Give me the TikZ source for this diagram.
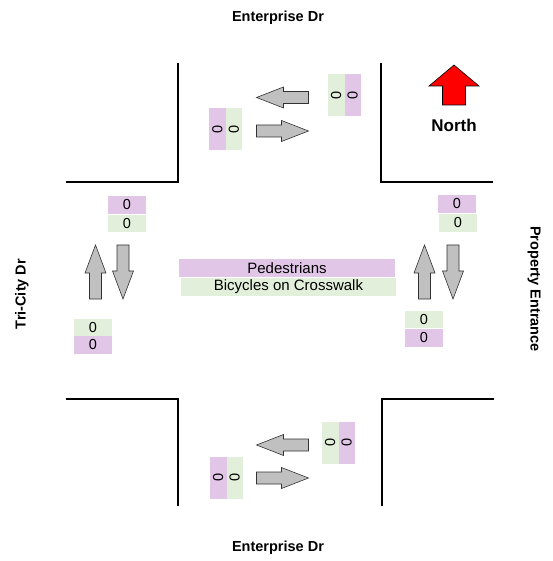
\documentclass[tikz,border=0pt]{standalone}
\usepackage{fontspec}
\setmainfont{Liberation Sans}
\definecolor{pedpurple}{RGB}{225,198,232}
\definecolor{bikegreen}{RGB}{226,239,218}
\definecolor{arrowgray}{RGB}{192,192,192}
\definecolor{arrowedge}{RGB}{50,50,50}
\begin{document}
\begin{tikzpicture}[x=1pt,y=-1pt,
  road/.style={line width=2pt,black},
  street/.style={font=\fontsize{14.5}{16}\selectfont\bfseries,inner sep=0pt},
  cnt/.style={inner sep=0pt,font=\fontsize{14.5}{15}\selectfont},
  ped/.style={cnt,fill=pedpurple},
  bike/.style={cnt,fill=bikegreen},
  hbox/.style={minimum width=38pt,minimum height=17.5pt},
  vbox/.style={rotate=90,minimum width=42pt,minimum height=16.5pt},
  legend/.style={font=\fontsize{15}{16}\selectfont,minimum height=18pt},
  arrowstyle/.style={fill=arrowgray,draw=arrowedge,line width=0.6pt,line join=miter},
  garrow/.pic={\draw[arrowstyle] (-26,-6) -- (-1,-6) -- (-1,-10.5) -- (26,0) -- (-1,10.5) -- (-1,6) -- (-26,6) -- cycle;}
]
\useasboundingbox (0,0) rectangle (552,561);

% street names
\node[street] (entN) at (278,18) {Enterprise Dr};
\node[street] (entS) at (278,548) {Enterprise Dr};
\node[street,rotate=90] (tri) at (22,294) {Tri-City Dr};
\node[street,rotate=-90] (prop) at (534,289) {Property Entrance};

% road corners
\draw[road] (178,63) -- (178,182) -- (66,182);
\draw[road] (381,63) -- (381,182) -- (493,182);
\draw[road] (66,399) -- (178,399) -- (178,506);
\draw[road] (494,399) -- (382,399) -- (382,506);

% north arrow
\draw[fill=red,draw=black,line width=0.6pt,line join=miter]
  (454,65) -- (479,86) -- (465.5,86) -- (465.5,105) -- (442.5,105) -- (442.5,86) -- (429,86) -- cycle;
\node[font=\fontsize{17}{19}\selectfont\bfseries,inner sep=0pt] (north) at (454,125) {North};

% movement arrows
\pic[rotate=180] at (282.5,97.5) {garrow};
\pic at (282.5,131) {garrow};
\pic[rotate=180] at (282.5,445) {garrow};
\pic at (282.5,478) {garrow};
\pic[rotate=90,xscale=1.04] at (95.5,272) {garrow};
\pic[rotate=-90,xscale=1.04] at (123,272) {garrow};
\pic[rotate=90,xscale=1.04] at (424.5,272) {garrow};
\pic[rotate=-90,xscale=1.04] at (453,272) {garrow};

% north approach counts
\node[bike,vbox] (nB1) at (336.25,95) {0};
\node[ped,vbox] (nP1) at (352.75,95) {0};
\node[ped,vbox] (nP2) at (217.5,129) {0};
\node[bike,vbox] (nB2) at (234,129) {0};

% south approach counts
\node[bike,vbox] (sB1) at (330.25,442.5) {0};
\node[ped,vbox] (sP1) at (346.75,442.5) {0};
\node[ped,vbox] (sP2) at (218.25,477.5) {0};
\node[bike,vbox] (sB2) at (234.75,477.5) {0};

% west approach counts
\node[ped,hbox] (wP1) at (127,205) {0};
\node[bike,hbox] (wB1) at (127,223.5) {0};
\node[bike,hbox] (wB2) at (93,327.5) {0};
\node[ped,hbox] (wP2) at (93,345) {0};

% east approach counts
\node[ped,hbox] (eP1) at (457,204) {0};
\node[bike,hbox] (eB1) at (458,223) {0};
\node[bike,hbox] (eB2) at (424,319.5) {0};
\node[ped,hbox] (eP2) at (424,338) {0};

% legend
\node[ped,legend,minimum width=216pt] (legP) at (287,268) {Pedestrians};
\node[bike,legend,minimum width=215pt] (legB) at (288.5,287) {Bicycles on Crosswalk};
\end{tikzpicture}
\end{document}
